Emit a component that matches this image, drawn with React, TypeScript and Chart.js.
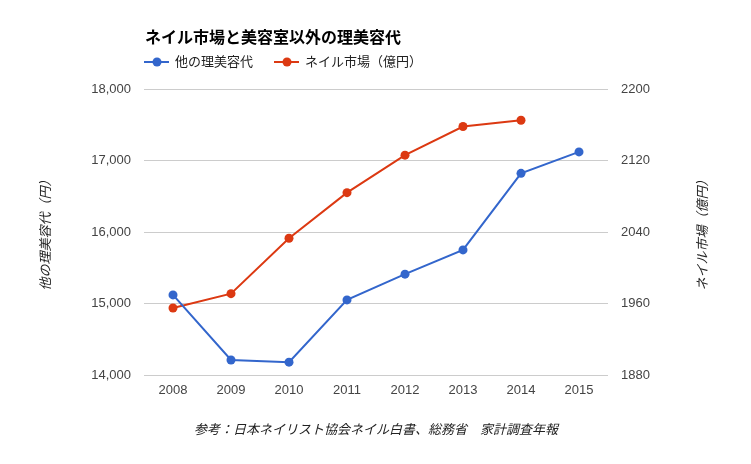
import React, { useEffect, useRef } from "react";
import { Chart, registerables } from "chart.js";

Chart.register(...registerables);

const years = ["2008", "2009", "2010", "2011", "2012", "2013", "2014", "2015"];
const otherBeauty = [15120, 14210, 14180, 15050, 15410, 15750, 16820, 17120];
const nailMarket = [1955, 1971, 2033, 2084, 2126, 2158, 2165, null];

const titleText = "ネイル市場と美容室以外の理美容代";
const seriesNames = ["他の理美容代", "ネイル市場（億円）"];
const leftAxisTitle = "他の理美容代（円）";
const rightAxisTitle = "ネイル市場（億円）";
const footerText = "参考：日本ネイリスト協会ネイル白書、総務省　家計調査年報";

const BLUE = "#3366cc";
const RED = "#dc3912";
const FONT = "Arial, 'Liberation Sans', 'Noto Sans CJK JP', sans-serif";

const decorPlugin = {
  id: "decor",
  afterDraw(chart: any) {
    const ctx = chart.ctx as CanvasRenderingContext2D;
    const area = chart.chartArea;
    ctx.save();
    // title
    ctx.fillStyle = "#000";
    ctx.font = `bold 16px ${FONT}`;
    ctx.textAlign = "left";
    ctx.textBaseline = "middle";
    ctx.fillText(titleText, 145, 39);
    // legend
    const colors = [BLUE, RED];
    const starts = [144, 274];
    ctx.font = `13px ${FONT}`;
    seriesNames.forEach((name, i) => {
      const x0 = starts[i];
      const y = 62;
      ctx.strokeStyle = colors[i];
      ctx.lineWidth = 2;
      ctx.beginPath();
      ctx.moveTo(x0, y);
      ctx.lineTo(x0 + 25, y);
      ctx.stroke();
      ctx.fillStyle = colors[i];
      ctx.beginPath();
      ctx.arc(x0 + 13, y, 4.5, 0, Math.PI * 2);
      ctx.fill();
      ctx.fillStyle = "#222";
      ctx.fillText(name, x0 + 31, y);
    });
    // axis titles
    const cy = (area.top + area.bottom) / 2;
    ctx.font = `italic 13px ${FONT}`;
    ctx.textAlign = "center";
    ctx.fillStyle = "#222";
    ctx.save();
    ctx.translate(46, cy);
    ctx.rotate(-Math.PI / 2);
    ctx.fillText(leftAxisTitle, 0, 0);
    ctx.restore();
    ctx.save();
    ctx.translate(703, cy);
    ctx.rotate(-Math.PI / 2);
    ctx.fillText(rightAxisTitle, 0, 0);
    ctx.restore();
    // footer
    ctx.font = `italic 13px ${FONT}`;
    ctx.fillText(footerText, (area.left + area.right) / 2, 430);
    ctx.restore();
  },
};

export default function App() {
  const ref = useRef<HTMLCanvasElement | null>(null);
  useEffect(() => {
    if (!ref.current) return;
    const chart = new Chart(ref.current, {
      type: "line",
      data: {
        labels: years,
        datasets: [
          {
            label: seriesNames[0],
            data: otherBeauty,
            yAxisID: "y",
            borderColor: BLUE,
            backgroundColor: BLUE,
            borderWidth: 2,
            pointRadius: 4.5,
            pointBorderWidth: 0,
            tension: 0,
          },
          {
            label: seriesNames[1],
            data: nailMarket,
            yAxisID: "y1",
            borderColor: RED,
            backgroundColor: RED,
            borderWidth: 2,
            pointRadius: 4.5,
            pointBorderWidth: 0,
            tension: 0,
          },
        ],
      },
      options: {
        responsive: false,
        animation: false,
        devicePixelRatio: 1,
        layout: { padding: { top: 89, left: 0, right: 0, bottom: 0 } },
        plugins: {
          legend: { display: false },
          title: { display: false },
          tooltip: { enabled: false },
        },
        scales: {
          x: {
            offset: true,
            grid: { display: false, drawTicks: false },
            border: { display: false },
            ticks: { color: "#444", font: { family: FONT, size: 13 }, padding: 8, maxRotation: 0 },
            afterFit: (s: any) => { s.height = 89; },
          },
          y: {
            position: "left",
            min: 14000,
            max: 18000,
            ticks: {
              stepSize: 1000,
              color: "#444",
              font: { family: FONT, size: 13 },
              padding: 13,
              callback: (v: any) => Number(v).toLocaleString("en-US"),
            },
            grid: { color: "#cccccc", drawTicks: false },
            border: { display: false },
            afterFit: (s: any) => { s.width = 144; },
          },
          y1: {
            position: "right",
            min: 1880,
            max: 2200,
            ticks: {
              stepSize: 80,
              color: "#444",
              font: { family: FONT, size: 13 },
              padding: 13,
              callback: (v: any) => String(v),
            },
            grid: { drawOnChartArea: false, drawTicks: false },
            border: { display: false },
            afterFit: (s: any) => { s.width = 143; },
          },
        },
      },
      plugins: [decorPlugin],
    });
    return () => chart.destroy();
  }, []);
  return (
    <div style={{ position: "fixed", left: 0, top: 0, width: 751, height: 464, background: "#fff" }}>
      <canvas ref={ref} width={751} height={464} />
    </div>
  );
}
